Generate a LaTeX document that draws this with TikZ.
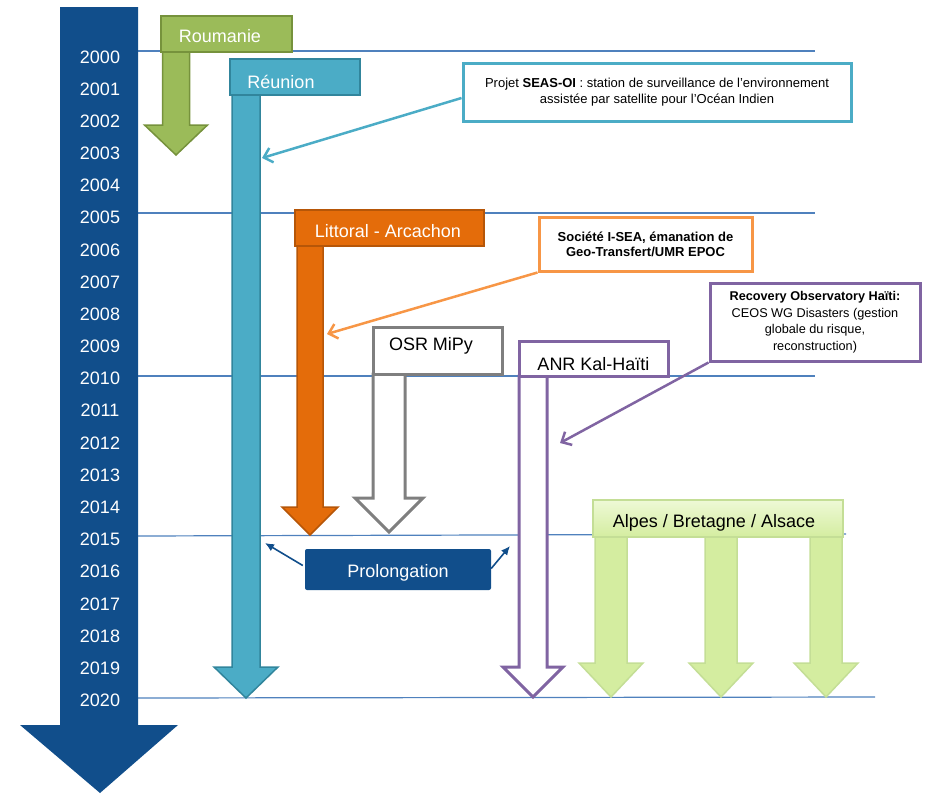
\documentclass[tikz,border=0pt]{standalone}
\usepackage{fontspec}
\setmainfont{Liberation Sans}
\usetikzlibrary{arrows.meta,calc}
\definecolor{dblue}{RGB}{17,78,139}
\definecolor{lineblue}{RGB}{79,129,189}
\definecolor{rgreen}{RGB}{155,187,89}
\definecolor{rgreenD}{RGB}{118,146,60}
\definecolor{tealc}{RGB}{75,172,198}
\definecolor{tealD}{RGB}{49,133,156}
\definecolor{orng}{RGB}{228,108,10}
\definecolor{orngD}{RGB}{182,86,8}
\definecolor{orngL}{RGB}{247,150,70}
\definecolor{grayc}{RGB}{127,127,127}
\definecolor{purp}{RGB}{128,100,162}
\definecolor{lgreen}{RGB}{226,243,190}
\definecolor{lgreenE}{RGB}{212,237,160}
\definecolor{lgreenM}{RGB}{238,249,214}
\definecolor{lgreenD}{RGB}{196,222,150}
% #1 style, #2 x centre, #3 top, #4 head base, #5 tip, #6 half shaft, #7 half head
\newcommand{\tlarrow}[7]{\draw[#1] ({#2-#6},#3) -- ({#2+#6},#3) -- ({#2+#6},#4) -- ({#2+#7},#4) -- (#2,#5) -- ({#2-#7},#4) -- ({#2-#6},#4) -- cycle;}
\begin{document}
\begin{tikzpicture}[x=1pt,y=-1pt,
  yr/.style={text=white,font=\fontsize{18}{20}\selectfont,anchor=base,inner sep=0},
  lbl/.style={font=\fontsize{18}{20}\selectfont,anchor=base,inner sep=0},
  boxed/.style={rectangle,inner sep=0},
  note/.style={rectangle,inner sep=0,fill=white,line width=3,align=center,font=\fontsize{13}{16}\selectfont},
  hline/.style={draw=lineblue,line width=1.2},
  conn/.style={line width=2.5,-{Straight Barb[length=8pt,width=15pt]}},
  pconn/.style={draw=dblue,line width=1.6,-{Latex[length=9pt,width=8pt]}},
  lgarrow/.style={left color=lgreenE,middle color=lgreenM,right color=lgreenE,draw=lgreenD,line width=1.5}
]
\useasboundingbox (0,0) rectangle (926,795);
% year grid lines
\draw[hline] (138,51) -- (815,51);
\draw[hline] (138,213) -- (815,213);
\draw[hline] (138,376) -- (815,376);
\draw[hline] (138,536) -- (846,534);
\draw[hline] (138,698) -- (875,697);
% main timeline arrow
\fill[dblue] (60,7) -- (138,7) -- (138,725) -- (178,725) -- (100,793) -- (20,725) -- (60,725) -- cycle;
\foreach \i [evaluate=\i as \yr using int(2000+\i)] in {0,...,20}
  \node[yr] (y\i) at (100,{63+32.18*\i}) {\yr};
% project arrows
\tlarrow{fill=rgreen,draw=rgreenD,line width=1.5}{176}{52}{125}{155}{13.5}{31.5}
\tlarrow{fill=tealc,draw=tealD,line width=1.5}{246}{95}{667}{698}{14}{32}
\tlarrow{fill=orng,draw=orngD,line width=1.5}{310}{246}{507}{535}{13}{28}
\tlarrow{fill=white,draw=grayc,line width=3}{389}{374}{498}{532}{16}{34}
\tlarrow{fill=white,draw=purp,line width=3}{533}{376}{667}{697}{14}{30}
\foreach \cx in {611,721,826}
  \tlarrow{lgarrow}{\cx}{537}{663}{697}{16}{32}
% project boxes
\node[boxed,fill=rgreen,draw=rgreenD,line width=2,minimum width=131,minimum height=36] (rou) at (226.5,34) {};
\node[lbl,text=white] (rou-t) at (220,42.5) {Roumanie};
\node[boxed,fill=tealc,draw=tealD,line width=2,minimum width=130,minimum height=36] (reu) at (295,77) {};
\node[lbl,text=white] (reu-t) at (281,88.5) {Réunion};
\node[boxed,fill=orng,draw=orngD,line width=2,minimum width=189,minimum height=36] (lit) at (389.5,228) {};
\node[lbl,text=white] (lit-t) at (388,237.5) {Littoral - Arcachon};
\node[boxed,fill=white,draw=grayc,line width=3,minimum width=129,minimum height=47] (osr) at (437.5,350.5) {};
\node[lbl] (osr-t) at (431,350) {OSR MiPy};
\node[boxed,fill=white,draw=purp,line width=3,minimum width=149,minimum height=35] (anr) at (593.5,358.5) {};
\node[lbl] (anr-t) at (593.5,370) {ANR Kal-Haïti};
\node[boxed,fill=dblue,rounded corners=2,minimum width=186,minimum height=41] (pro) at (398,569.5) {};
\node[lbl,text=white] (pro-t) at (398,577) {Prolongation};
\node[boxed,top color=lgreenM,bottom color=lgreenE,draw=lgreenD,line width=1.5,minimum width=250,minimum height=37] (alp) at (718,518.5) {};
\node[lbl] (alp-t) at (714,527) {Alpes / Bretagne / Alsace};
% comment boxes
\node[note,draw=tealc,minimum width=388,minimum height=58] (seas) at (657,92)
  {Projet \textbf{SEAS-OI} : station de surveillance de l’environnement\\assistée par satellite pour l’Océan Indien};
\node[note,draw=orngL,minimum width=213,minimum height=54,font=\fontsize{13}{15}\selectfont\bfseries] (soc) at (645.5,244)
  {Société I-SEA, émanation de\\Geo-Transfert/UMR EPOC};
\node[note,draw=purp,minimum width=210,minimum height=78,font=\fontsize{12.7}{16.5}\selectfont] (rec) at (815,322)
  {\textbf{Recovery Observatory Haïti:}\\CEOS WG Disasters (gestion\\globale du risque,\\reconstruction)};
% connectors
\coordinate (reu-hit) at (262,158);
\coordinate (lit-hit) at (327,334);
\coordinate (anr-hit) at (560,443);
\coordinate (reu-pro) at (265,543);
\coordinate (anr-pro) at (510,546);
\draw[conn,draw=tealc] ($(seas.west)+(0,6)$) -- (reu-hit);
\draw[conn,draw=orngL] (soc.south west) -- (lit-hit);
\draw[conn,draw=purp] (rec.south west) -- (anr-hit);
\draw[pconn] ($(pro.west)+(-2,-4)$) -- (reu-pro);
\draw[pconn] ($(pro.east)+(0,-1)$) -- (anr-pro);
\end{tikzpicture}
\end{document}
